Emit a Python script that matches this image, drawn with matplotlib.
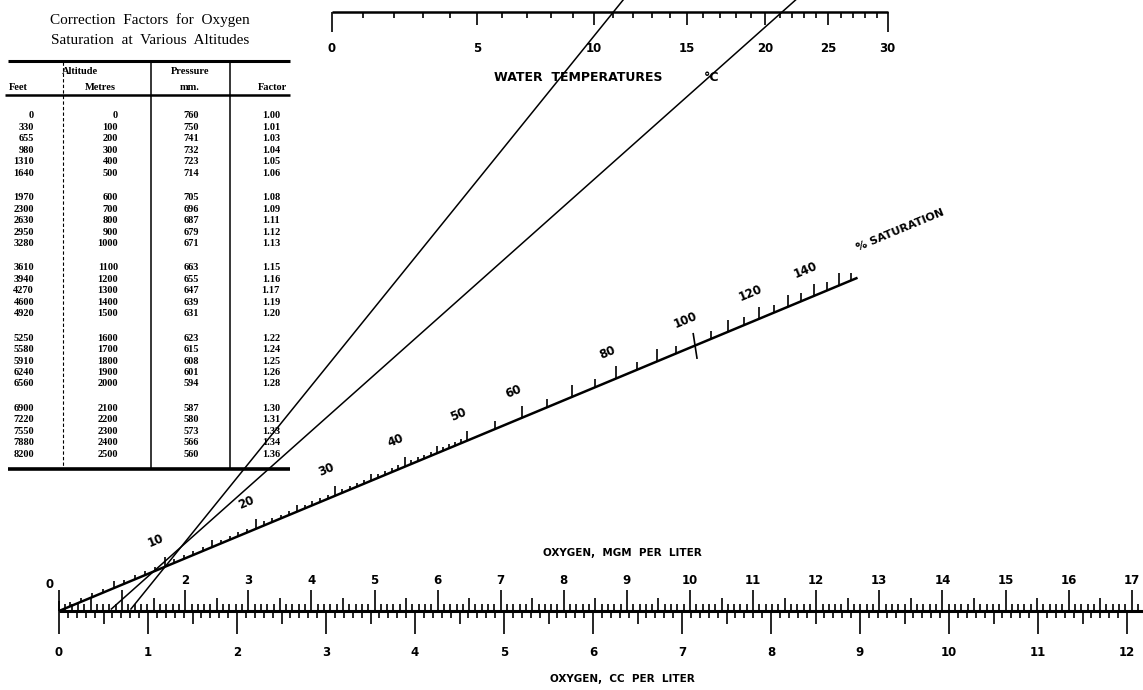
import numpy as np
import matplotlib
matplotlib.use("Agg")
import matplotlib.pyplot as plt
from matplotlib.collections import LineCollection

# ------------------------------------------------------------------ data
table_title = ["Correction  Factors  for  Oxygen", "Saturation  at  Various  Altitudes"]
altitude_feet = [0, 330, 655, 980, 1310, 1640,
                 1970, 2300, 2630, 2950, 3280,
                 3610, 3940, 4270, 4600, 4920,
                 5250, 5580, 5910, 6240, 6560,
                 6900, 7220, 7550, 7880, 8200]
altitude_metres = [0, 100, 200, 300, 400, 500,
                   600, 700, 800, 900, 1000,
                   1100, 1200, 1300, 1400, 1500,
                   1600, 1700, 1800, 1900, 2000,
                   2100, 2200, 2300, 2400, 2500]
pressure_mm = [760, 750, 741, 732, 723, 714,
               705, 696, 687, 679, 671,
               663, 655, 647, 639, 631,
               623, 615, 608, 601, 594,
               587, 580, 573, 566, 560]
correction_factor = ["1.00", "1.01", "1.03", "1.04", "1.05", "1.06",
                     "1.08", "1.09", "1.11", "1.12", "1.13",
                     "1.15", "1.16", "1.17", "1.19", "1.20",
                     "1.22", "1.24", "1.25", "1.26", "1.28",
                     "1.30", "1.31", "1.33", "1.34", "1.36"]
row_group_sizes = [6, 5, 5, 5, 5]

# water temperature scale: oxygen solubility (mg/L) at each whole degree
temperature_c = list(range(0, 31))
o2_solubility_mg = [14.62, 14.23, 13.84, 13.48, 13.13, 12.80, 12.48, 12.17,
                    11.87, 11.59, 11.33, 11.08, 10.83, 10.60, 10.37, 10.15,
                    9.95, 9.74, 9.54, 9.35, 9.17, 8.99, 8.83, 8.68, 8.53,
                    8.38, 8.22, 8.07, 7.92, 7.77, 7.63]
temperature_labels = [0, 5, 10, 15, 20, 25, 30]

saturation_labels = [0, 10, 20, 30, 40, 50, 60, 80, 100, 120, 140]
mg_labels = [2, 3, 4, 5, 6, 7, 8, 9, 10, 11, 12, 13, 14, 15, 16, 17]
cc_labels = [0, 1, 2, 3, 4, 5, 6, 7, 8, 9, 10, 11, 12]

# example readings drawn as straight lines (temperature -> oxygen, mg/L)
example_temp_c = [11.0, 21.2]
example_o2_mg = [1.14, 0.83]

# ------------------------------------------------------------------ scales (pixel space)
W, H = 1143, 690
Y_TOP, Y_BOT = 12, 611
X0_TOP, K_TOP = 332.0, 79.5      # temperature scale: x = X0 + K*(Cs(0)-Cs(T))
X0_BOT, M_MG = 59.0, 63.1        # mg scale
M_CC = 89.0                      # cc scale


def x_temp(t):
    cs = np.interp(t, temperature_c, o2_solubility_mg)
    return X0_TOP + K_TOP * (o2_solubility_mg[0] - cs)


def x_mg(m):
    return X0_BOT + M_MG * np.asarray(m, dtype=float)


def x_cc(c):
    return X0_BOT + M_CC * np.asarray(c, dtype=float)


X_POLE = X0_TOP + K_TOP * o2_solubility_mg[0]   # top point for zero solubility


def sat_point(s):
    s = np.asarray(s, dtype=float) / 100.0
    f = M_MG * s / (M_MG * s + K_TOP)
    return X0_BOT + f * (X_POLE - X0_BOT), Y_BOT - f * (Y_BOT - Y_TOP)


# ------------------------------------------------------------------ figure
fig = plt.figure(figsize=(W / 100, H / 100), dpi=100)
ax = fig.add_axes([0, 0, 1, 1])
ax.set_xlim(0, W)
ax.set_ylim(H, 0)
ax.axis("off")

INK = "black"
SANS = "DejaVu Sans"
SERIF = "Liberation Serif"

# ---------------- top temperature scale
ax.plot([x_temp(0), x_temp(30)], [Y_TOP, Y_TOP], color=INK, lw=1.8,
        solid_capstyle="butt")
segs = []
for t in temperature_c:
    x = x_temp(t)
    if t in (0, 30):
        ln = 20
    elif t % 5 == 0:
        ln = 13
    else:
        ln = 6
    segs.append([(x, Y_TOP), (x, Y_TOP + ln)])
ax.add_collection(LineCollection(segs, colors=INK, linewidths=1.2))
for t in temperature_labels:
    ax.text(x_temp(t), 48, str(t), ha="center", va="center",
            fontsize=8.5, fontweight="bold", family=SANS, color=INK)
ax.text(578, 81, "WATER  TEMPERATURES", ha="center", va="baseline",
        fontsize=9, fontweight="bold", family=SANS, color=INK)
ax.text(712, 81, "°C", ha="center", va="baseline",
        fontsize=9, fontweight="bold", family=SANS, color=INK)

# ---------------- bottom oxygen scale
ax.plot([X0_BOT, W], [Y_BOT, Y_BOT], color=INK, lw=2.2, solid_capstyle="butt")
segs = []
for i in range(0, 172):
    v = i / 10
    ln = 21 if i % 10 == 0 else (13 if i % 5 == 0 else 7)
    x = x_mg(v)
    segs.append([(x, Y_BOT), (x, Y_BOT - ln)])
for i in range(0, 121):
    v = i / 10
    ln = 23 if i % 10 == 0 else (13 if i % 5 == 0 else 7)
    x = x_cc(v)
    segs.append([(x, Y_BOT), (x, Y_BOT + ln)])
ax.add_collection(LineCollection(segs, colors=INK, linewidths=1.2))
for m in mg_labels:
    ax.text(x_mg(m), 580, str(m), ha="center", va="center",
            fontsize=8.5, fontweight="bold", family=SANS, color=INK)
for c in cc_labels:
    ax.text(x_cc(c), 652, str(c), ha="center", va="center",
            fontsize=8.5, fontweight="bold", family=SANS, color=INK)
ax.text(622, 553, "OXYGEN,  MGM  PER  LITER", ha="center", va="center",
        fontsize=7.5, fontweight="bold", family=SANS, color=INK)
ax.text(622, 679, "OXYGEN,  CC  PER  LITER", ha="center", va="center",
        fontsize=7.5, fontweight="bold", family=SANS, color=INK)

# ---------------- saturation scale
xs0, ys0 = sat_point(0)
xs1, ys1 = sat_point(158)
ax.plot([xs0, xs1], [ys0, ys1], color=INK, lw=1.8, solid_capstyle="butt")
angle = np.degrees(np.arctan2(ys0 - ys1, xs1 - xs0))
sat_ticks = list(range(0, 51)) + list(range(55, 156, 5))
segs = []
for s in sat_ticks:
    x, y = sat_point(s)
    if s == 100:
        segs.append([(x + 3, y + 13), (x - 1, y - 13)])
        continue
    if s <= 50:
        ln = 10 if s % 10 == 0 else (7 if s % 5 == 0 else 4)
    else:
        ln = 12 if s % 10 == 0 else 8
    segs.append([(x, y), (x, y - ln)])
ax.add_collection(LineCollection(segs, colors=INK, linewidths=1.2))
for s in saturation_labels:
    x, y = sat_point(s)
    ax.text(x - 9, y - 26, str(s), ha="center", va="center",
            rotation=angle if s else 0, rotation_mode="anchor",
            fontsize=8.5, fontweight="bold", family=SANS, color=INK)
ax.text(900, 230, "% SATURATION", ha="center", va="center",
        rotation=angle, rotation_mode="anchor",
        fontsize=8, fontweight="bold", family=SANS, color=INK)

# ---------------- example reading lines
for t, m in zip(example_temp_c, example_o2_mg):
    xa, xb = x_temp(t), x_mg(m)
    # extend from the oxygen scale up to the top edge of the sheet
    x_top = xb + (xa - xb) * (Y_BOT - 0) / (Y_BOT - Y_TOP)
    ax.plot([xb, x_top], [Y_BOT - 2, 0], color=INK, lw=1.1)

# ---------------- altitude table
ax.text(150, 20, table_title[0], ha="center", va="center",
        fontsize=11, family=SERIF, color=INK)
ax.text(150, 40, table_title[1], ha="center", va="center",
        fontsize=11, family=SERIF, color=INK)
ax.plot([8, 290], [61, 61], color=INK, lw=2.2, solid_capstyle="butt")
ax.plot([5, 290], [95, 95], color=INK, lw=1.8, solid_capstyle="butt")
ax.plot([8, 290], [469, 469], color=INK, lw=2.6, solid_capstyle="butt")
ax.plot([63, 63], [62, 468], color=INK, lw=0.8, ls=(0, (3, 2)))
ax.plot([151, 151], [62, 468], color=INK, lw=1.1)
ax.plot([230, 230], [62, 468], color=INK, lw=1.1)

hdr = dict(ha="center", va="center", fontsize=7.5, fontweight="bold",
           family=SERIF, color=INK)
ax.text(80, 71, "Altitude", **hdr)
ax.text(190, 71, "Pressure", **hdr)
ax.text(18, 87, "Feet", **hdr)
ax.text(100, 87, "Metres", **hdr)
ax.text(190, 87, "mm.", **hdr)
ax.text(273, 87, "Factor", **hdr)

ROW0, PITCH, GAP = 116.0, 11.45, 13.0
group_of_row = np.repeat(np.arange(len(row_group_sizes)), row_group_sizes)
cell = dict(va="center", fontsize=7.5, fontweight="bold", family=SERIF, color=INK)
for i in range(len(altitude_feet)):
    y = ROW0 + i * PITCH + group_of_row[i] * GAP
    ax.text(34, y, str(altitude_feet[i]), ha="right", **cell)
    ax.text(118, y, str(altitude_metres[i]), ha="right", **cell)
    ax.text(199, y, str(pressure_mm[i]), ha="right", **cell)
    ax.text(280, y, correction_factor[i], ha="right", **cell)

fig.savefig("out.png", dpi=100, facecolor="white")
